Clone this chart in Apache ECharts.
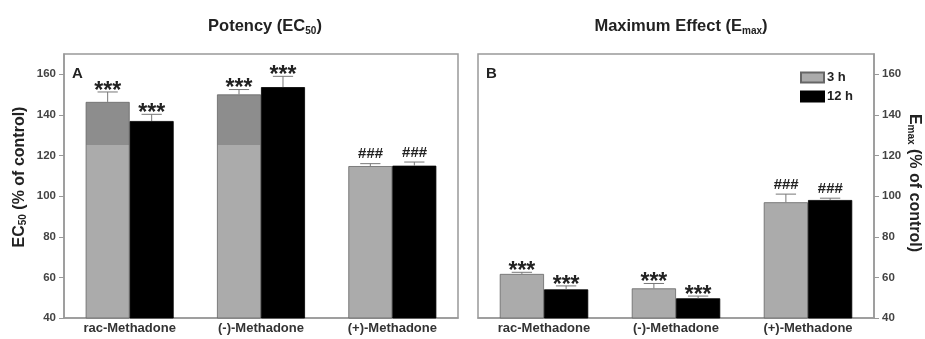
<!DOCTYPE html>
<html>
<head>
<meta charset="utf-8">
<script src="https://cdn.jsdelivr.net/npm/echarts@6/dist/echarts.min.js"></script>
<style>html,body{margin:0;padding:0;background:#fff;}#c{width:925px;height:339px;}</style>
</head>
<body>
<div id="c"></div>
<script>
var categories = ['rac-Methadone', '(-)-Methadone', '(+)-Methadone'];
var yTicks = [40, 60, 80, 100, 120, 140, 160];

var ec50_3h = [146.4, 150.1, 114.8];
var ec50_3h_err = [4.9, 2.4, 1.2];
var ec50_12h = [137.0, 153.7, 115.0];
var ec50_12h_err = [3.3, 5.3, 1.8];
var ec50_marks_3h = ['***', '***', '###'];
var ec50_marks_12h = ['***', '***', '###'];

var emax_3h = [61.7, 54.6, 97.0];
var emax_3h_err = [0.8, 2.4, 4.0];
var emax_12h = [54.1, 49.7, 98.1];
var emax_12h_err = [1.7, 1.1, 0.9];
var emax_marks_3h = ['***', '***', '###'];
var emax_marks_12h = ['***', '***', '###'];

var Y_MIN = 40, Y_MAX = 170, SPLIT = 125;
var LIGHT = '#ababab', DARK = '#8d8d8d', BLACK = '#000';
var FONT = 'Liberation Sans, Arial, sans-serif';

function twoTone(vals) {
  return vals.map(function (v) {
    if (v <= SPLIT) return { value: v, itemStyle: { color: LIGHT } };
    var f = (v - SPLIT) / (v - Y_MIN);
    return { value: v, itemStyle: { color: new echarts.graphic.LinearGradient(0, 0, 0, 1, [
      { offset: 0, color: DARK }, { offset: f, color: DARK },
      { offset: f, color: LIGHT }, { offset: 1, color: LIGHT }]) } };
  });
}

function errRows(vals, errs, side) {
  return vals.map(function (v, i) { return [i, v, errs[i], side]; });
}

function errSeries(gi, rows, marks) {
  return {
    type: 'custom', xAxisIndex: gi, yAxisIndex: gi, silent: true, z: 5,
    data: rows,
    encode: { x: 0, y: 1 },
    renderItem: function (params, api) {
      var cat = api.value(0), v = api.value(1), e = api.value(2), side = api.value(3);
      var base = api.coord([cat, v]);
      var top = api.coord([cat, v + e]);
      var band = api.size([1, 0])[0];
      var bw = band * 0.67 / 2;
      var x = base[0] + (side === 0 ? -bw / 2 : bw / 2);
      var cap = bw * 0.23;
      var txt = marks[params.dataIndex];
      var isStar = txt === '***';
      return {
        type: 'group',
        children: [
          { type: 'line', shape: { x1: x, y1: base[1], x2: x, y2: top[1] }, style: { stroke: '#777', lineWidth: 1 } },
          { type: 'line', shape: { x1: x - cap, y1: top[1], x2: x + cap, y2: top[1] }, style: { stroke: '#777', lineWidth: 1 } },
          { type: 'text', x: x, y: top[1] + (isStar ? 11 : -2), style: {
              text: txt, align: 'center', verticalAlign: 'bottom',
              font: isStar ? 'bold 23px ' + FONT : 'bold italic 15px ' + FONT, fill: '#222' } }
        ]
      };
    }
  };
}

var labelStyle = { fontFamily: FONT, fontWeight: 'bold', fontSize: 11.5, color: '#444' };
var nameRich = {
  a: { fontFamily: FONT, fontWeight: 'bold', fontSize: 16, color: '#222' },
  s: { fontFamily: FONT, fontWeight: 'bold', fontSize: 10, color: '#222', verticalAlign: 'bottom', padding: [7, 0, 0, 0] }
};
var titleRich = {
  a: { fontFamily: FONT, fontWeight: 'bold', fontSize: 16.5, color: '#222' },
  s: { fontFamily: FONT, fontWeight: 'bold', fontSize: 10, color: '#222', padding: [9, 0, 0, 0] }
};

function yAxis(gi, pos, name, rot, gap, pad) {
  return {
    type: 'value', gridIndex: gi, position: pos, min: Y_MIN, max: Y_MAX,
    splitLine: { show: false },
    axisLine: { show: true, lineStyle: { color: '#999', width: 1.5 } },
    axisTick: { show: true, length: 5, lineStyle: { color: '#999' }, customValues: yTicks },
    axisLabel: Object.assign({ margin: 8, customValues: yTicks }, labelStyle),
    name: name, nameLocation: 'middle', nameRotate: rot, nameGap: gap,
    nameTextStyle: { rich: nameRich, padding: pad }
  };
}
function xAxis(gi) {
  return {
    type: 'category', gridIndex: gi, data: categories,
    axisLine: { show: true, lineStyle: { color: '#999', width: 1.5 } },
    axisTick: { show: false },
    axisLabel: Object.assign({ margin: 4 }, labelStyle, { fontSize: 13, color: '#333' })
  };
}

var chart = echarts.init(document.getElementById('c'), null, { renderer: 'canvas' });
chart.setOption({
  animation: false,
  backgroundColor: '#fff',
  title: [
    { text: '{a|Potency (EC}{s|50}{a|)}', left: 260, top: 12, textAlign: 'center', textStyle: { rich: titleRich } },
    { text: '{a|Maximum Effect (E}{s|max}{a|)}', left: 676, top: 12, textAlign: 'center', textStyle: { rich: titleRich } }
  ],
  graphic: [
    { type: 'text', left: 72, top: 66, style: { text: 'A', font: 'bold 15px ' + FONT, fill: '#222' } },
    { type: 'text', left: 486, top: 66, style: { text: 'B', font: 'bold 15px ' + FONT, fill: '#222' } }
  ],
  legend: {
    data: ['3 h', '12 h'], orient: 'vertical', left: 795, top: 66, icon: 'rect',
    itemWidth: 23, itemHeight: 10, itemGap: 6,
    textStyle: { fontFamily: FONT, fontWeight: 'bold', fontSize: 13, color: '#222', padding: [0, 0, 0, -2] },
    selectedMode: false
  },
  grid: [
    { left: 64, right: 467, top: 54, bottom: 21, show: true, borderColor: '#999', borderWidth: 1.5, containLabel: false },
    { left: 478, right: 51, top: 54, bottom: 21, show: true, borderColor: '#999', borderWidth: 1.5, containLabel: false }
  ],
  xAxis: [xAxis(0), xAxis(1)],
  yAxis: [
    yAxis(0, 'left', '{a|EC}{s|50}{a| (% of control)}', 90, 36, [0, 0, 0, 18]),
    yAxis(1, 'right', '{a|E}{s|max}{a| (% of control)}', -90, 32, [0, 6, 0, 0])
  ],
  series: [
    { name: '3 h', type: 'bar', xAxisIndex: 0, yAxisIndex: 0, data: twoTone(ec50_3h), barGap: '0%', barCategoryGap: '33%',
      itemStyle: { color: LIGHT, borderColor: '#666', borderWidth: 0.8 } },
    { name: '12 h', type: 'bar', xAxisIndex: 0, yAxisIndex: 0, data: ec50_12h, barGap: '0%', barCategoryGap: '33%',
      itemStyle: { color: BLACK, borderColor: '#000', borderWidth: 0.8 } },
    { name: '3 h', type: 'bar', xAxisIndex: 1, yAxisIndex: 1, data: emax_3h, barGap: '0%', barCategoryGap: '33%',
      itemStyle: { color: LIGHT, borderColor: '#666', borderWidth: 0.8 } },
    { name: '12 h', type: 'bar', xAxisIndex: 1, yAxisIndex: 1, data: emax_12h, barGap: '0%', barCategoryGap: '33%',
      itemStyle: { color: BLACK, borderColor: '#000', borderWidth: 0.8 } },
    errSeries(0, errRows(ec50_3h, ec50_3h_err, 0), ec50_marks_3h),
    errSeries(0, errRows(ec50_12h, ec50_12h_err, 1), ec50_marks_12h),
    errSeries(1, errRows(emax_3h, emax_3h_err, 0), emax_marks_3h),
    errSeries(1, errRows(emax_12h, emax_12h_err, 1), emax_marks_12h)
  ]
});
</script>
</body>
</html>
